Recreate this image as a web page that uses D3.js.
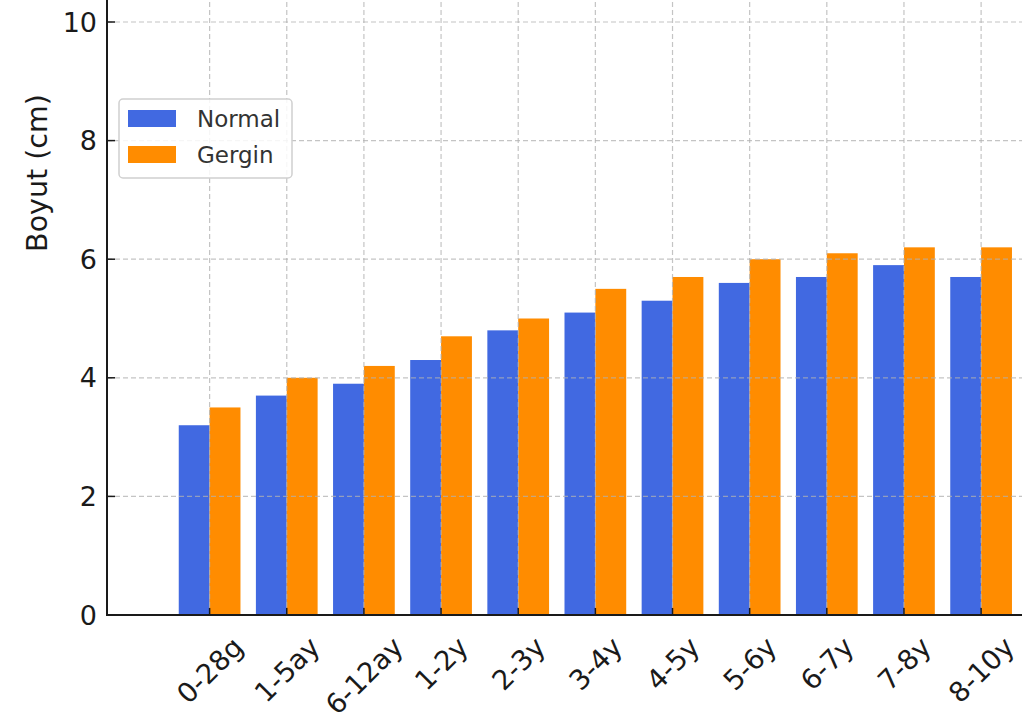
<!DOCTYPE html>
<html>
<head>
<meta charset="utf-8">
<script src="https://cdn.jsdelivr.net/npm/d3@7"></script>
<style>
  body { margin: 0; background: #fff; }
  svg { display: block; font-family: "DejaVu Sans", sans-serif; }
</style>
</head>
<body>
<svg id="chart" width="1024" height="721"></svg>
<script>
// data
const categories = ["0-28g", "1-5ay", "6-12ay", "1-2y", "2-3y", "3-4y", "4-5y", "5-6y", "6-7y", "7-8y", "8-10y"];
const normalValues = [3.2, 3.7, 3.9, 4.3, 4.8, 5.1, 5.3, 5.6, 5.7, 5.9, 5.7];
const gerginValues = [3.5, 4.0, 4.2, 4.7, 5.0, 5.5, 5.7, 6.0, 6.1, 6.2, 6.2];
const seriesNames = ["Normal", "Gergin"];
const seriesColors = ["#4169E1", "#FF8C00"];
const yTicks = [0, 2, 4, 6, 8, 10];

const svg = d3.select("#chart");

// plot area
const plotLeft = 107, plotRight = 1022, plotBottom = 615, plotTop = 0;

// x is an index scale, so the bars can sit either side of the tick
const x = d3.scaleLinear().domain([-1.33, 10.53]).range([plotLeft, plotRight]);
const y = d3.scaleLinear().domain([0, 10]).range([plotBottom, 22]);
const barW = x(0.4) - x(0);

const ink = "#1a1a1a";

// bars
const series = [normalValues, gerginValues];
series.forEach((vals, s) => {
  svg.append("g")
    .attr("fill", seriesColors[s])
    .selectAll("rect")
    .data(vals)
    .join("rect")
      .attr("x", (d, i) => s === 0 ? x(i) - barW : x(i))
      .attr("y", d => y(d))
      .attr("width", barW)
      .attr("height", d => y(0) - y(d));
});

// dashed grid, drawn over the bars but faint
const grid = svg.append("g")
  .attr("stroke", "#b0b0b0")
  .attr("stroke-opacity", 0.75)
  .attr("stroke-width", 1.2)
  .attr("stroke-dasharray", "5,3");

grid.selectAll("line.h")
  .data(yTicks.filter(t => t > 0))
  .join("line")
    .attr("class", "h")
    .attr("x1", plotLeft).attr("x2", plotRight)
    .attr("y1", d => y(d)).attr("y2", d => y(d));

grid.selectAll("line.v")
  .data(categories)
  .join("line")
    .attr("class", "v")
    .attr("x1", (d, i) => x(i)).attr("x2", (d, i) => x(i))
    .attr("y1", plotBottom).attr("y2", plotTop);

// spines
svg.append("line")
  .attr("x1", plotLeft).attr("x2", plotLeft)
  .attr("y1", plotBottom + 1).attr("y2", plotTop)
  .attr("stroke", ink).attr("stroke-width", 2);
svg.append("line")
  .attr("x1", plotLeft - 1).attr("x2", plotRight)
  .attr("y1", plotBottom).attr("y2", plotBottom)
  .attr("stroke", ink).attr("stroke-width", 2);

// y ticks (pointing inward) and labels
const yAxis = svg.append("g");
yAxis.selectAll("line")
  .data(yTicks)
  .join("line")
    .attr("x1", plotLeft).attr("x2", plotLeft + 8)
    .attr("y1", d => y(d)).attr("y2", d => y(d))
    .attr("stroke", ink).attr("stroke-width", 1.5);
yAxis.selectAll("text")
  .data(yTicks)
  .join("text")
    .attr("x", plotLeft - 10)
    .attr("y", d => y(d))
    .attr("text-anchor", "end")
    .attr("dominant-baseline", "central")
    .attr("font-size", 27)
    .attr("fill", ink)
    .text(d => d);

// x ticks (inward) and rotated labels
const xAxis = svg.append("g");
xAxis.selectAll("line")
  .data(categories)
  .join("line")
    .attr("x1", (d, i) => x(i)).attr("x2", (d, i) => x(i))
    .attr("y1", plotBottom).attr("y2", plotBottom - 7)
    .attr("stroke", ink).attr("stroke-width", 1.5);

const labelTop = 632;
const labelSize = 27.5;
xAxis.selectAll("text")
  .data(categories)
  .join("text")
    .attr("text-anchor", "middle")
    .attr("dominant-baseline", "central")
    .attr("font-size", labelSize)
    .attr("fill", ink)
    .text(d => d)
    .each(function(d, i) {
      // centre of the rotated box sits under the tick, top of the box at labelTop
      const len = this.getComputedTextLength();
      const boxH = (len + labelSize) * Math.SQRT1_2;
      d3.select(this).attr("transform",
        `translate(${x(i)},${labelTop + boxH / 2}) rotate(-45)`);
    });

// y axis title
svg.append("text")
  .attr("transform", "translate(37,173) rotate(-90)")
  .attr("text-anchor", "middle")
  .attr("dominant-baseline", "central")
  .attr("font-size", 28.5)
  .attr("fill", ink)
  .text("Boyut (cm)");

// legend
const legend = svg.append("g");
legend.append("rect")
  .attr("x", 119).attr("y", 99)
  .attr("width", 173).attr("height", 79)
  .attr("rx", 4)
  .attr("fill", "#fff").attr("fill-opacity", 0.85)
  .attr("stroke", "#d0d0d0").attr("stroke-width", 1.5);

const item = legend.selectAll("g")
  .data(seriesNames)
  .join("g")
    .attr("transform", (d, i) => `translate(128,${110 + i * 36})`);
item.append("rect")
  .attr("width", 48).attr("height", 17)
  .attr("fill", (d, i) => seriesColors[i]);
item.append("text")
  .attr("x", 69).attr("y", 9)
  .attr("dominant-baseline", "central")
  .attr("font-size", 23)
  .attr("fill", "#333")
  .text(d => d);
</script>
</body>
</html>
